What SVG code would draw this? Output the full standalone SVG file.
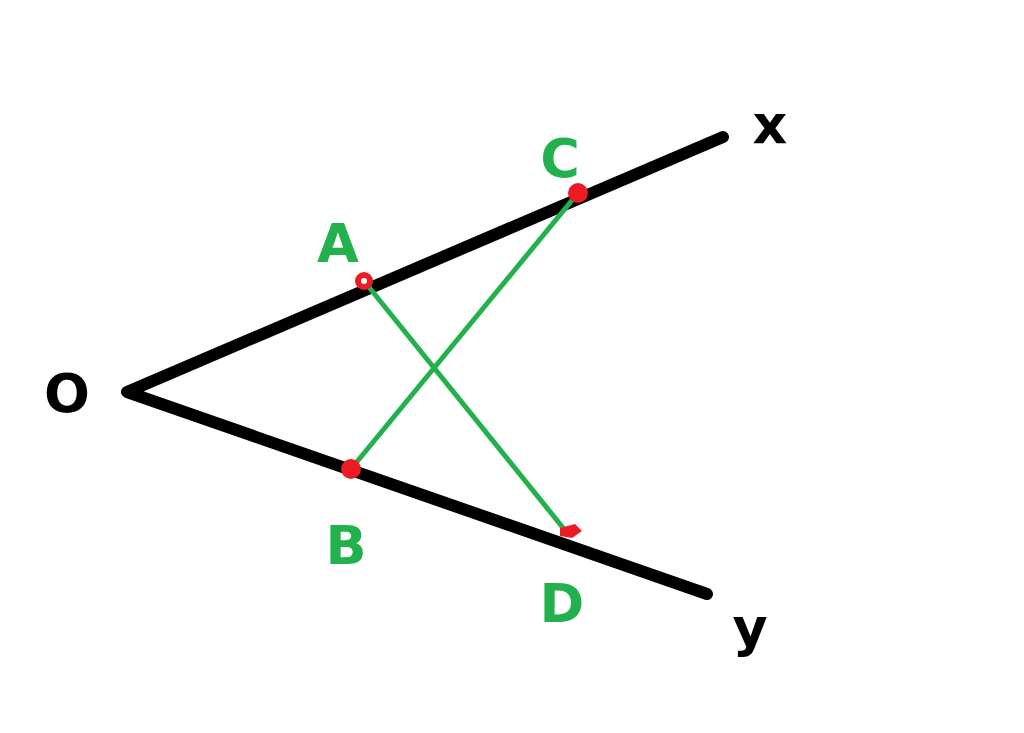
<svg xmlns="http://www.w3.org/2000/svg" width="1024" height="733" viewBox="0 0 1024 733">
<style>
.ray{stroke:#000;stroke-width:12;stroke-linecap:round;stroke-linejoin:round;fill:none}
.seg{stroke:#22b14c;stroke-width:5;stroke-linecap:round;fill:none}
.pt{fill:#ed1c24}
.lbl{font-family:"DejaVu Sans","Liberation Sans",sans-serif;font-weight:bold;font-size:54px;text-anchor:middle}
.blk{fill:#000}
.grn{fill:#22b14c}
</style>
<rect width="1024" height="733" fill="#fff"/>
<g id="rays">
<polyline class="ray" points="723,137 127,392 707,594"/>
</g>
<g id="connectors">
<line class="seg" x1="364" y1="281" x2="568" y2="534"/>
<line class="seg" x1="578" y1="193" x2="351" y2="469"/>
</g>
<g id="A"><circle class="pt" cx="364" cy="281" r="9"/><circle cx="364" cy="281" r="3" fill="#fff"/><text class="lbl grn" x="338" y="262">A</text></g>
<g id="C"><circle class="pt" cx="578" cy="193" r="10"/><text class="lbl grn" x="560" y="177">C</text></g>
<g id="B"><circle class="pt" cx="351" cy="469" r="10"/><text class="lbl grn" x="346" y="564">B</text></g>
<g id="D"><path class="pt" d="M560,528 L575,524 L582,531 L572,538 L560,536 Z"/><text class="lbl grn" x="562" y="622">D</text></g>
<g id="O"><text class="lbl blk" x="67" y="412">O</text></g>
<g id="X"><text class="lbl blk" x="770" y="143">x</text></g>
<g id="Y"><text class="lbl blk" x="750" y="646">y</text></g>
</svg>
